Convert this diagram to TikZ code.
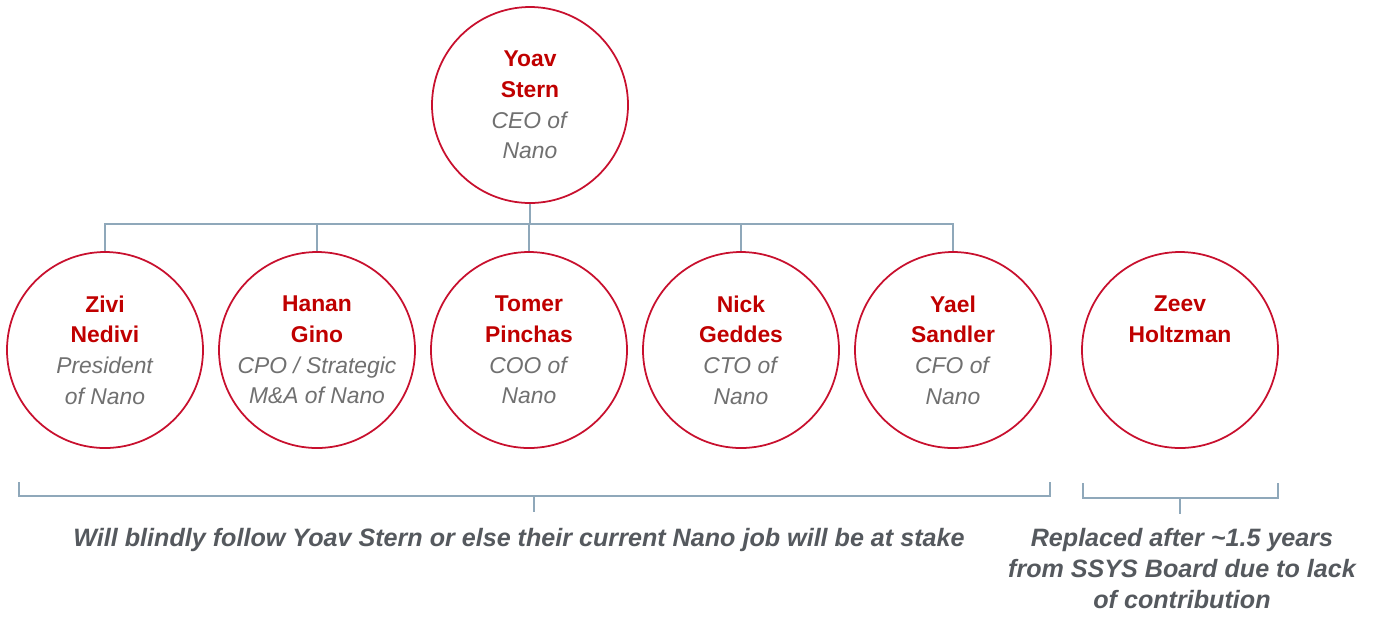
\documentclass[tikz,border=0pt]{standalone}
\usepackage{fontspec}
\setmainfont{Liberation Sans}
\usetikzlibrary{positioning}

\definecolor{boxred}{HTML}{C8102E}
\definecolor{namered}{HTML}{C00000}
\definecolor{rolegray}{HTML}{707070}
\definecolor{notegray}{HTML}{55595E}
\definecolor{linkblue}{HTML}{8FA8BA}

\tikzset{
  person/.style={circle, draw=boxred, line width=1pt, fill=white,
    minimum size=3.92cm, inner sep=0pt, align=center,
    font=\fontsize{13}{17.5}\selectfont},
  link/.style={draw=linkblue, line width=0.7pt},
  note/.style={align=center, text=notegray,
    font=\fontsize{14.3}{17.6}\selectfont\bfseries\itshape}
}
% one line of a name / one line of a role
\newcommand{\nm}[1]{\textcolor{namered}{\textbf{#1}}}
\newcommand{\rl}[1]{\textcolor{rolegray}{\textit{#1}}}

\begin{document}
\begin{tikzpicture}[node distance=4.24cm]
  \useasboundingbox (0,0) rectangle (27.5,-12.34);

  \node(ceo)[person] at (10.6,-2.1) {\nm{Yoav}\\\nm{Stern}\\\rl{CEO of}\\\rl{Nano}};
  \node(zivi)[person] at (2.1,-7.0) {\nm{Zivi}\\\nm{Nedivi}\\\rl{President}\\\rl{of Nano}};
  \node(hanan)[person, right of=zivi] {\nm{Hanan}\\\nm{Gino}\\\rl{CPO / Strategic}\\\rl{M\&A of Nano}};
  \node(tomer)[person, right of=hanan] {\nm{Tomer}\\\nm{Pinchas}\\\rl{COO of}\\\rl{Nano}};
  \node(nick)[person, right of=tomer] {\nm{Nick}\\\nm{Geddes}\\\rl{CTO of}\\\rl{Nano}};
  \node(yael)[person, right of=nick] {\nm{Yael}\\\nm{Sandler}\\\rl{CFO of}\\\rl{Nano}};
  \node(zeev)[person, right of=yael, xshift=0.3cm] {\nm{Zeev}\\\nm{Holtzman}\\\phantom{\rl{Nano}}\\\phantom{\rl{Nano}}};

  % reporting lines
  \draw[link] (ceo.south) -- ++(0,-0.4) coordinate (bus);
  \foreach \n in {zivi,hanan,tomer,nick,yael}
    \draw[link] (\n.north) |- (bus);

  % brackets
  \coordinate (b1l) at (0.38,-9.64);
  \coordinate (b1r) at (21.0,-9.64);
  \coordinate (b2l) at (21.66,-9.66);
  \coordinate (b2r) at (25.56,-9.66);
  \draw[link] (b1l) -- ++(0,-0.28) -| (b1r);
  \draw[link] (b2l) -- ++(0,-0.3) -| (b2r);
  \draw[link] (10.68,-9.92) -- (10.68,-10.24);
  \draw[link] (23.6,-9.96) -- (23.6,-10.28);

  \node(follow)[note] at (10.38,-10.8) {Will blindly follow Yoav Stern or else their current Nano job will be at stake};
  \node(zeevnote)[note, below=0.14cm of {(23.64,-10.3)}] {Replaced after \textasciitilde1.5 years\\from SSYS Board due to lack\\of contribution};
\end{tikzpicture}
\end{document}
